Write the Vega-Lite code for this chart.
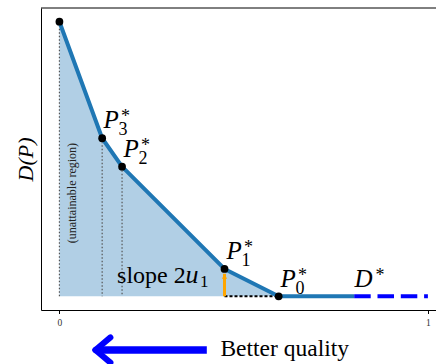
{
  "$schema": "https://vega.github.io/schema/vega-lite/v6.json",
  "autosize": "none",
  "width": 395,
  "height": 302,
  "padding": {"left": 41, "top": 8, "right": 0, "bottom": 54},
  "background": "white",
  "config": {"view": {"stroke": null}},
  "datasets": {
    "curve": [
      {"x": 0.0, "y": 1.0},
      {"x": 0.116, "y": 0.5756},
      {"x": 0.170, "y": 0.472},
      {"x": 0.448, "y": 0.0995},
      {"x": 0.595, "y": 0.0}
    ],
    "line": [
      {"x": 0.0, "y": 1.0},
      {"x": 0.116, "y": 0.5756},
      {"x": 0.170, "y": 0.472},
      {"x": 0.448, "y": 0.0995},
      {"x": 0.595, "y": 0.0},
      {"x": 0.8, "y": 0.0}
    ],
    "drops": [
      {"x": 0.0, "y": 1.0},
      {"x": 0.116, "y": 0.5756},
      {"x": 0.170, "y": 0.472}
    ],
    "plabels": [
      {"sym": "P", "sub": "3", "x": 0.1194, "y": 0.613},
      {"sym": "P", "sub": "2", "x": 0.1737, "y": 0.5075},
      {"sym": "P", "sub": "1", "x": 0.4532, "y": 0.1348},
      {"sym": "P", "sub": "0", "x": 0.5997, "y": 0.0328}
    ]
  },
  "layer": [
    {
      "data": {"name": "curve"},
      "mark": {"type": "area", "color": "#b1cfe5", "opacity": 1},
      "encoding": {
        "x": {"field": "x", "type": "quantitative",
              "scale": {"domain": [-0.05, 1.022], "nice": false, "zero": false},
              "axis": {"values": [0, 1], "format": "d", "title": null, "grid": false,
                       "domainColor": "black", "domainWidth": 1, "tickColor": "black", "tickSize": 3.5,
                       "labelFont": "Liberation Serif", "labelFontSize": 9.5, "labelColor": "#333", "labelPadding": 4}},
        "y": {"field": "y", "type": "quantitative",
              "scale": {"domain": [-0.05, 1.05], "nice": false, "zero": false},
              "axis": {"labels": false, "ticks": false, "grid": false, "domainColor": "black", "domainWidth": 1,
                       "title": "D(P)", "titleFont": "Liberation Serif", "titleFontStyle": "italic",
                       "titleFontWeight": "normal", "titleFontSize": 22, "titleColor": "black",
                       "titleBaseline": "alphabetic", "titlePadding": 9}},
        "y2": {"datum": 0}
      }
    },
    {
      "data": {"name": "drops"},
      "mark": {"type": "rule", "color": "#555555", "strokeWidth": 1.2, "strokeDash": [1.5, 2]},
      "encoding": {
        "x": {"field": "x", "type": "quantitative"},
        "y": {"field": "y", "type": "quantitative"},
        "y2": {"datum": 0}
      }
    },
    {
      "data": {"values": [{"x": 0.448, "x2": 0.595, "y": 0}]},
      "mark": {"type": "rule", "color": "black", "strokeWidth": 2, "strokeDash": [3, 2]},
      "encoding": {
        "x": {"field": "x", "type": "quantitative"},
        "x2": {"field": "x2"},
        "y": {"field": "y", "type": "quantitative"}
      }
    },
    {
      "data": {"values": [{"x": 0.448, "y": 0.082}]},
      "mark": {"type": "rule", "color": "#ffa500", "strokeWidth": 3},
      "encoding": {
        "x": {"field": "x", "type": "quantitative"},
        "y": {"field": "y", "type": "quantitative"},
        "y2": {"datum": 0}
      }
    },
    {
      "data": {"values": [{"x": 0.448, "y": 0.072}]},
      "mark": {"type": "point", "shape": "triangle-up", "filled": true, "color": "#ffa500", "size": 28, "opacity": 1},
      "encoding": {
        "x": {"field": "x", "type": "quantitative"},
        "y": {"field": "y", "type": "quantitative"}
      }
    },
    {
      "data": {"name": "line"},
      "mark": {"type": "line", "color": "#1f77b4", "strokeWidth": 4, "strokeJoin": "round"},
      "encoding": {
        "x": {"field": "x", "type": "quantitative"},
        "y": {"field": "y", "type": "quantitative"}
      }
    },
    {
      "data": {"values": [{"x": 0.8, "x2": 1.0, "y": 0}]},
      "mark": {"type": "rule", "color": "#0000ff", "strokeWidth": 4, "strokeDash": [16.5, 6.8]},
      "encoding": {
        "x": {"field": "x", "type": "quantitative"},
        "x2": {"field": "x2"},
        "y": {"field": "y", "type": "quantitative"}
      }
    },
    {
      "data": {"name": "curve"},
      "mark": {"type": "point", "filled": true, "color": "black", "size": 60, "opacity": 1},
      "encoding": {
        "x": {"field": "x", "type": "quantitative"},
        "y": {"field": "y", "type": "quantitative"}
      }
    },
    {
      "data": {"name": "plabels"},
      "mark": {"type": "text", "font": "Liberation Serif", "fontStyle": "italic", "fontSize": 25, "align": "left", "baseline": "alphabetic", "color": "black"},
      "encoding": {
        "x": {"field": "x", "type": "quantitative"},
        "y": {"field": "y", "type": "quantitative"},
        "text": {"field": "sym"}
      }
    },
    {
      "data": {"name": "plabels"},
      "mark": {"type": "text", "font": "Liberation Serif", "fontSize": 18, "align": "left", "baseline": "alphabetic", "color": "black", "dx": 17.5, "dy": -6},
      "encoding": {
        "x": {"field": "x", "type": "quantitative"},
        "y": {"field": "y", "type": "quantitative"},
        "text": {"value": "*"}
      }
    },
    {
      "data": {"name": "plabels"},
      "mark": {"type": "text", "font": "Liberation Serif", "fontSize": 18, "align": "left", "baseline": "alphabetic", "color": "black", "dx": 15, "dy": 7},
      "encoding": {
        "x": {"field": "x", "type": "quantitative"},
        "y": {"field": "y", "type": "quantitative"},
        "text": {"field": "sub"}
      }
    },
    {
      "data": {"values": [{"sym": "D", "x": 0.8005, "y": 0.0328}]},
      "mark": {"type": "text", "font": "Liberation Serif", "fontStyle": "italic", "fontSize": 25, "align": "left", "baseline": "alphabetic", "color": "black"},
      "encoding": {
        "x": {"field": "x", "type": "quantitative"},
        "y": {"field": "y", "type": "quantitative"},
        "text": {"field": "sym"}
      }
    },
    {
      "data": {"values": [{"sym": "*", "x": 0.8005, "y": 0.0328}]},
      "mark": {"type": "text", "font": "Liberation Serif", "fontSize": 18, "align": "left", "baseline": "alphabetic", "color": "black", "dx": 21, "dy": -6},
      "encoding": {
        "x": {"field": "x", "type": "quantitative"},
        "y": {"field": "y", "type": "quantitative"},
        "text": {"field": "sym"}
      }
    },
    {
      "data": {"values": [{"t": "slope 2", "x": 0.1565, "y": 0.0495}]},
      "mark": {"type": "text", "font": "Liberation Serif", "fontSize": 24, "align": "left", "baseline": "alphabetic", "color": "black"},
      "encoding": {
        "x": {"field": "x", "type": "quantitative"},
        "y": {"field": "y", "type": "quantitative"},
        "text": {"field": "t"}
      }
    },
    {
      "data": {"values": [{"t": "u", "x": 0.1565, "y": 0.0495}]},
      "mark": {"type": "text", "font": "Liberation Serif", "fontStyle": "italic", "fontSize": 26, "align": "left", "baseline": "alphabetic", "color": "black", "dx": 68.5},
      "encoding": {
        "x": {"field": "x", "type": "quantitative"},
        "y": {"field": "y", "type": "quantitative"},
        "text": {"field": "t"}
      }
    },
    {
      "data": {"values": [{"t": "1", "x": 0.1565, "y": 0.0495}]},
      "mark": {"type": "text", "font": "Liberation Serif", "fontSize": 17, "align": "left", "baseline": "alphabetic", "color": "black", "dx": 83, "dy": 4},
      "encoding": {
        "x": {"field": "x", "type": "quantitative"},
        "y": {"field": "y", "type": "quantitative"},
        "text": {"field": "t"}
      }
    },
    {
      "data": {"values": [{"t": "(unattainable region)", "x": 0.035, "y": 0.376}]},
      "mark": {"type": "text", "font": "Liberation Serif", "fontSize": 12, "angle": 270, "align": "center", "baseline": "middle", "color": "#222222"},
      "encoding": {
        "x": {"field": "x", "type": "quantitative"},
        "y": {"field": "y", "type": "quantitative"},
        "text": {"field": "t"}
      }
    },
    {
      "data": {"values": [{"x": 0.105, "x2": 0.4, "y": -0.1956}]},
      "mark": {"type": "rule", "color": "#0000ff", "strokeWidth": 7.5, "strokeCap": "butt"},
      "encoding": {
        "x": {"field": "x", "type": "quantitative"},
        "x2": {"field": "x2"},
        "y": {"field": "y", "type": "quantitative"}
      }
    },
    {
      "data": {"values": [
        {"x": 0.0977, "y": -0.1956, "x2": 0.1384, "y2": -0.1497},
        {"x": 0.0977, "y": -0.1956, "x2": 0.1384, "y2": -0.2418}
      ]},
      "mark": {"type": "rule", "color": "#0000ff", "strokeWidth": 6, "strokeCap": "round"},
      "encoding": {
        "x": {"field": "x", "type": "quantitative"},
        "x2": {"field": "x2"},
        "y": {"field": "y", "type": "quantitative"},
        "y2": {"field": "y2"}
      }
    },
    {
      "data": {"values": [{"t": "Better quality", "x": 0.437, "y": -0.2175}]},
      "mark": {"type": "text", "font": "Liberation Serif", "fontSize": 23.5, "align": "left", "baseline": "alphabetic", "color": "black"},
      "encoding": {
        "x": {"field": "x", "type": "quantitative"},
        "y": {"field": "y", "type": "quantitative"},
        "text": {"field": "t"}
      }
    },
    {
      "data": {"values": [{"x": -0.05, "x2": 1.022, "y": 1.05}]},
      "mark": {"type": "rule", "color": "black", "strokeWidth": 1},
      "encoding": {
        "x": {"field": "x", "type": "quantitative"},
        "x2": {"field": "x2"},
        "y": {"field": "y", "type": "quantitative"}
      }
    }
  ]
}
